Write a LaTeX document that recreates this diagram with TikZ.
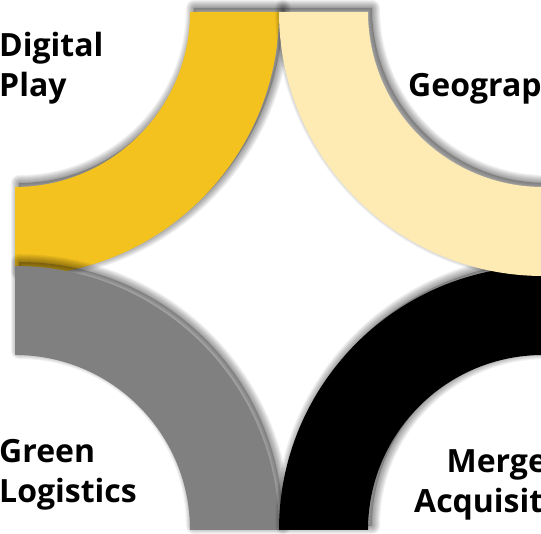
\documentclass[tikz,border=0pt]{standalone}
\usepackage{fontspec}
\setmainfont{Open Sans}

\definecolor{gold}{HTML}{F4C21F}
\definecolor{sand}{HTML}{FEEBB4}
\definecolor{slate}{HTML}{808080}

\tikzset{
  % quarter ring around (#1,#2), starting at angle #3, inner radius 175, outer 264
  ring/.style n args={3}{insert path={(#1,#2) ++(#3:175)
      arc[start angle=#3, delta angle=90, radius=175] -- ++({#3+90}:89)
      arc[start angle={#3+90}, delta angle=-90, radius=264] -- cycle}},
  haze/.style={black, opacity=0.05, line join=round},
  tag/.style={font=\bfseries\fontsize{32}{40}\selectfont, inner sep=0pt}
}

\begin{document}
\begin{tikzpicture}[x=1pt,y=1pt]
    \useasboundingbox (0,0) rectangle (541,534);
    \clip (0,0) rectangle (541,534);
    \fill[white] (0,0) rectangle (541,534);

    \foreach \x/\y/\a/\col in {15/522/270/gold, 15/4/0/slate, 543/4/90/black, 543/522/180/sand} {
      % soft shadow, pushed up and to the right
      \begin{scope}[shift={(4,4)}]
        \foreach \w in {16,14,...,2}
          \draw[haze, line width=\w pt, ring={\x}{\y}{\a}];
        \fill[black, opacity=0.22, ring={\x}{\y}{\a}];
      \end{scope}
      \fill[\col, ring={\x}{\y}{\a}];
    }

    % base anchor sits on the last line
    \node[tag, align=left, anchor=base west] (digital) at (-1,437) {Digital\\Play};
    \node[tag, anchor=base west] (geo) at (408,437) {Geography};
    \node[tag, align=left, anchor=base west] (green) at (-1,31) {Green\\Logistics};
    \node[tag, align=center, anchor=base] (merger) at (512,21) {Mergers\\Acquisitions};
\end{tikzpicture}
\end{document}
